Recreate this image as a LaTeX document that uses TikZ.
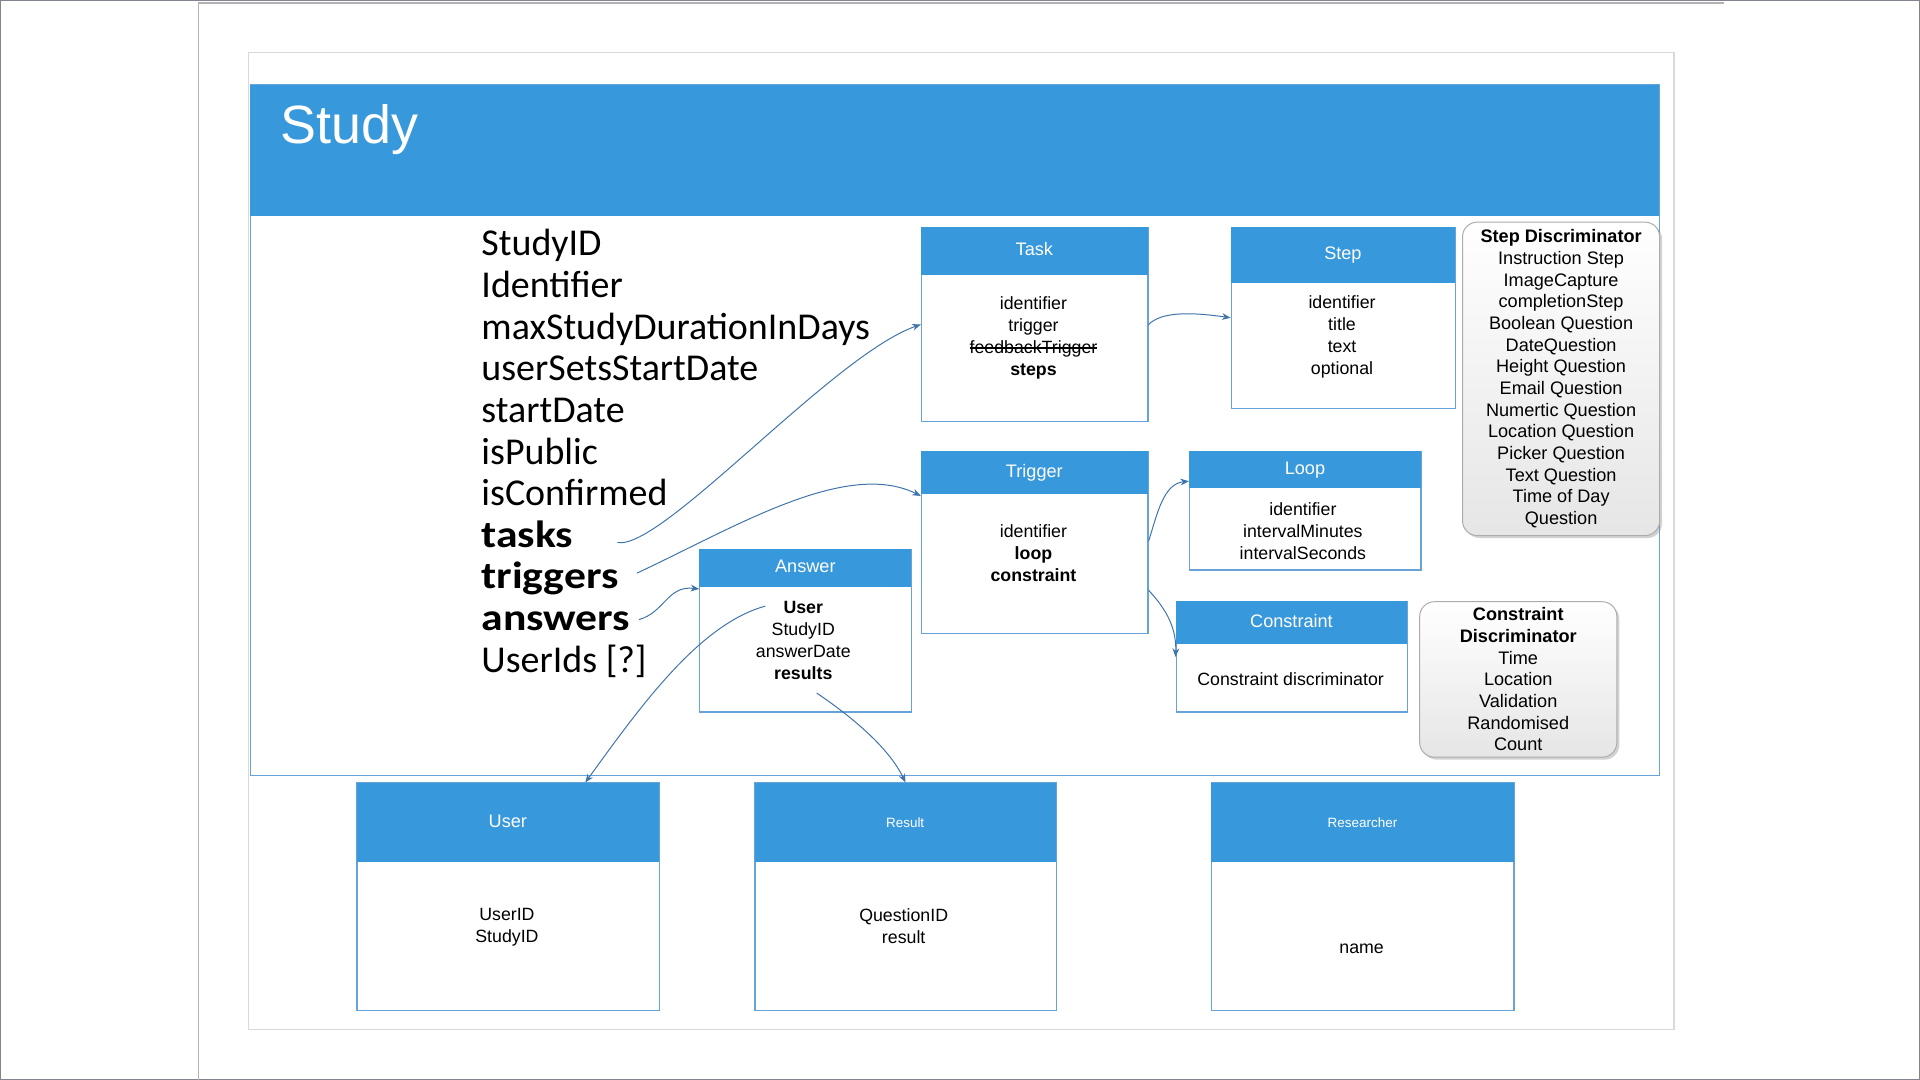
\documentclass[tikz,border=0pt]{standalone}
\usepackage{fontspec}
\setmainfont{Liberation Sans}
\newfontfamily\attrfont{Carlito}
\newfontfamily\attrbold{Carlito}[FakeStretch=1.15]
\usetikzlibrary{arrows.meta,shadows}

\definecolor{hblue}{RGB}{55,152,219}
\definecolor{bline}{RGB}{104,163,216}
\definecolor{cline}{RGB}{62,115,170}
\definecolor{slidegray}{RGB}{217,217,217}
\definecolor{framegray}{RGB}{128,134,139}
\definecolor{panelgray}{RGB}{178,178,178}

% struck-through text
\newcommand\strk[1]{\setbox0\hbox{#1}\rlap{\rule[0.28em]{\wd0}{0.07em}}\box0}
% bold attribute
\newcommand\battr[1]{{\attrbold\bfseries #1}}

\tikzset{
  box/.style={draw=bline, line width=1pt, fill=white, anchor=north west, inner sep=0pt},
  head/.style={fill=hblue, text=white, anchor=north west, inner sep=0pt, text height=11pt, text depth=3pt, font=\fontsize{14.8pt}{17pt}\selectfont},
  body/.style={align=center, inner sep=0pt, font=\fontsize{14.5pt}{18pt}\selectfont},
  attr/.style={anchor=base west, inner sep=0pt, font=\attrfont\fontsize{31pt}{34pt}\selectfont},
  disc/.style={draw=gray!65, line width=0.8pt, rounded corners=12pt, top color=white, bottom color=gray!20, drop shadow={shadow xshift=2pt, shadow yshift=-2pt, opacity=0.35}, anchor=north west, align=center, inner sep=0pt, font=\fontsize{14.8pt}{17.7pt}\selectfont},
  link/.style={draw=cline, line width=0.8pt, -{Stealth[length=7pt,width=5.5pt]}}
}

\begin{document}
\begin{tikzpicture}[x=1pt,y=-1pt]
\useasboundingbox (0,0) rectangle (1568,882);

% Window and slide frames
\draw[framegray, line width=1pt] (0.5,0.5) rectangle (1567.5,881.5);
\draw[panelgray, line width=1pt] (162,882) -- (162,2.5) -- (1408,2.5);
\draw[slidegray, line width=1pt] (203,43) rectangle (1367,841);

% Study frame
\node[box, minimum width=1151pt, minimum height=564pt] (study) at (204,69) {};
\node[head, minimum width=1151pt, minimum height=107pt] (studyh) at (204,69) {};
\node[anchor=base west, inner sep=0pt, text=white, font=\fontsize{44pt}{50pt}\selectfont] (studyt) at (229,117) {Study};

% Study attributes
\foreach \nm/\txt [count=\i from 0] in {sid/StudyID, ident/Identifier, maxdur/maxStudyDurationInDays,
    usersets/userSetsStartDate, start/startDate, public/isPublic, confirmed/isConfirmed,
    tasks/\battr{tasks}, triggers/\battr{triggers}, answers/\battr{answers}, uids/{UserIds [?]}}
  \node[attr] (\nm) at (393,{209+34*\i}) {\txt};

% Task
\node[box, minimum width=185pt, minimum height=159pt] (task) at (752,185) {};
\node[head, minimum width=185pt, minimum height=39pt] (taskh) at (752,185) {Task};
\node[body] (taskb) at (844,276) {identifier\\trigger\\\strk{feedbackTrigger}\\\textbf{steps}};

% Step
\node[box, minimum width=183pt, minimum height=148pt] (step) at (1005,185) {};
\node[head, minimum width=183pt, minimum height=46pt] (steph) at (1005,185) {Step};
\node[body] (stepb) at (1096,275.5) {identifier\\title\\text\\optional};

% Step discriminator
\node[disc, minimum width=161pt, minimum height=256pt] (stepd) at (1194,181)
  {\textbf{Step Discriminator}\\Instruction Step\\ImageCapture\\completionStep\\Boolean Question\\DateQuestion\\Height Question\\Email Question\\Numertic Question\\Location Question\\Picker Question\\Text Question\\Time of Day\\Question};

% Trigger
\node[box, minimum width=185pt, minimum height=149pt] (trig) at (752,368) {};
\node[head, minimum width=185pt, minimum height=35pt] (trigh) at (752,368) {Trigger};
\node[body] (trigb) at (844,452) {identifier\\\textbf{loop}\\\textbf{constraint}};

% Loop
\node[box, minimum width=189pt, minimum height=97pt] (loop) at (971,368) {};
\node[head, minimum width=189pt, minimum height=30pt] (looph) at (971,368) {Loop};
\node[body] (loopb) at (1064,433.5) {identifier\\intervalMinutes\\intervalSeconds};

% Constraint
\node[box, minimum width=189pt, minimum height=90pt] (cons) at (960,491) {};
\node[head, minimum width=189pt, minimum height=35pt] (consh) at (960,491) {Constraint};
\node[body] (consb) at (1054,555) {Constraint discriminator};

% Constraint discriminator
\node[disc, minimum width=161pt, minimum height=127pt] (consd) at (1159,491)
  {\textbf{Constraint}\\\textbf{Discriminator}\\Time\\Location\\Validation\\Randomised\\Count};

% Answer
\node[box, minimum width=173pt, minimum height=133pt] (ans) at (571,448) {};
\node[head, minimum width=173pt, minimum height=31pt] (ansh) at (571,448) {Answer};
\node[body] (ansb) at (656,523) {\textbf{User}\\StudyID\\answerDate\\\textbf{results}};
\coordinate (ansuser) at (625,495);
\coordinate (ansres) at (667,566);

% Bottom entities
\node[box, minimum width=247pt, minimum height=186pt] (user) at (291,639) {};
\node[head, minimum width=247pt, minimum height=65pt] (userh) at (291,639) {User};
\node[body] (userb) at (414,757.5) {UserID\\StudyID};

\node[box, minimum width=246pt, minimum height=186pt] (result) at (616,639) {};
\node[head, minimum width=246pt, minimum height=65pt, font=\fontsize{11pt}{13pt}\selectfont] (resulth) at (616,639) {Result};
\node[body] (resultb) at (738,756.5) {QuestionID\\result};

\node[box, minimum width=247pt, minimum height=186pt] (resr) at (989,639) {};
\node[head, minimum width=247pt, minimum height=65pt, font=\fontsize{11pt}{13pt}\selectfont] (resrh) at (989,639) {Researcher};
\node[body] (resrb) at (1112,774.5) {name};

% Connectors
\draw[link] ([shift={(36pt,4pt)}]tasks.base east) .. controls +(36,7) and +(-72,25) .. (task.west);
\draw[link] ([shift={(15pt,13pt)}]triggers.base east) .. controls +(81,-38) and +(-61,-30) .. ([yshift=-37pt]trig.north west);
\draw[link] ([shift={(7pt,9pt)}]answers.base east) .. controls +(21,-6) and +(-26,-3) .. ([yshift=-33pt]ans.north west);
\draw[link] (task.east) .. controls +(10,-10) and +(-35,-5) .. (step.west);
\draw[link] ([yshift=-74pt]trig.north east) .. controls +(7,-22) and +(-21,2) .. ([yshift=-25pt]loop.north west);
\draw[link] ([yshift=-114pt]trig.north east) .. controls +(12,13) and +(1,-26) .. (cons.west);
\draw[link] (ansuser) .. controls +(-55,15) and +(43,-59) .. ([xshift=63pt]user.north);
\draw[link] (ansres) .. controls +(28,19) and +(-14,-29) .. (result.north);
\end{tikzpicture}
\end{document}
